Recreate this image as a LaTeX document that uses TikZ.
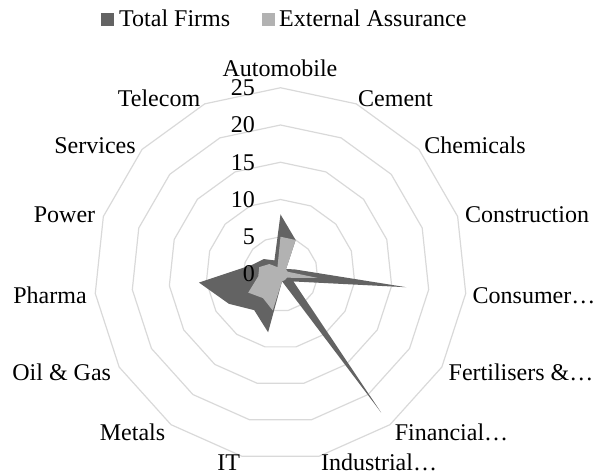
\documentclass[tikz,border=0pt]{standalone}
\usepackage{fontspec}
\setmainfont{Liberation Serif}
\usepackage{tikz}
\usepackage{xcolor}
\definecolor{totalgray}{RGB}{99,99,99}
\definecolor{assurgray}{RGB}{178,178,178}
\definecolor{gridgray}{RGB}{217,217,217}

\begin{document}
\begin{tikzpicture}[x=1pt, y=1pt, font=\fontsize{24}{28}\selectfont,
  ring/.style={draw=gridgray, line width=1.2pt, line join=round},
  catlabel/.style={anchor=base, inner sep=0pt},
  ticklabel/.style={anchor=east, inner sep=0pt}]
\useasboundingbox (-280.5,-201) rectangle (314.5,274);
% rings
\foreach \v in {5,10,...,25}
  \draw[ring] (90:\v*7.45) \foreach \k in {1,...,14} {-- (90-24*\k:\v*7.45)} -- cycle;
% Total Firms
\fill[totalgray] (90:8*7.45) \foreach \v [count=\k] in {5,1,2,17,2,23,1,8,6,8,11,4,3,2}
  {-- (90-24*\k:\v*7.45)} -- cycle;
% External Assurance
\fill[assurgray] (90:5*7.45) \foreach \v [count=\k] in {5,1,1,5,1,1,1,5,4,5,3,3,2,1}
  {-- (90-24*\k:\v*7.45)} -- cycle;
% values
\foreach \v in {0,5,...,25}
  \node[ticklabel] (tick\v) at (-25.5,\v*7.45) {\v};
% categories
\foreach \px/\py/\name [count=\i] in {-0.5/198/Automobile, 115/168/Cement,
    194.5/120.7/Chemicals, 246.5/52/Construction, 253.5/-29/Consumer…,
    240.5/-106/Fertilisers \&…, 171/-166/Financial…, 98.5/-196.5/Industrial…,
    -51.7/-196.5/IT, -148/-166/Metals, -218.8/-106/Oil \& Gas, -230.5/-29/Pharma,
    -216/52/Power, -185.5/120.7/Services, -121.5/168/Telecom}
  \node[catlabel] (cat\i) at (\px,\py) {\name};
% legend
\fill[totalgray] (-179.5,248) rectangle (-166.5,261);
\node[anchor=base west, inner sep=0pt] (legtotal) at (-161.5,247.5) {Total Firms};
\fill[assurgray] (-18.5,248) rectangle (-5.5,261);
\node[anchor=base west, inner sep=0pt] (legassur) at (-1.5,247.5) {External Assurance};
\end{tikzpicture}
\end{document}
